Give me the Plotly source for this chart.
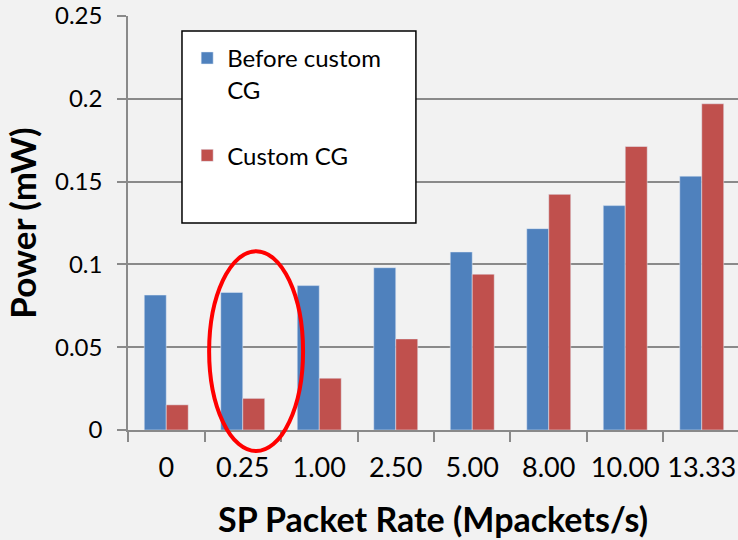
import plotly.graph_objects as go

# SP packet rate categories (Mpackets/s)
rates = ["0", "0.25", "1.00", "2.50", "5.00", "8.00", "10.00", "13.33"]
# Power (mW)
before_cg = [0.0815, 0.0831, 0.0872, 0.098, 0.1075, 0.1216, 0.1355, 0.1533]
custom_cg = [0.0152, 0.0191, 0.0313, 0.055, 0.0941, 0.1423, 0.1712, 0.197]

FONT = "Lato"
GRID = "#8a8a8a"
BG = "#f2f2f2"

fig = go.Figure()
fig.add_trace(go.Bar(x=rates, y=before_cg, name="Before custom<br>CG",
                     marker=dict(color="#4f81bd"), legendgroup="a"))
fig.add_trace(go.Bar(x=rates, y=custom_cg, name="Custom CG",
                     marker=dict(color="#c0504d"), legendgroup="b"))

# white legend frame
fig.add_shape(type="rect", xref="paper", yref="paper",
              x0=0.0885, x1=0.472, y0=0.5, y1=0.964,
              fillcolor="white", line=dict(color="black", width=1.5), layer="above")
# red ellipse highlighting 0.25
fig.add_shape(type="circle", xref="paper", yref="paper",
              x0=0.133, x1=0.287, y0=-0.051, y1=0.432,
              line=dict(color="#ff0000", width=4), layer="above")

fig.update_layout(
    width=738, height=540,
    paper_bgcolor=BG, plot_bgcolor=BG,
    font=dict(family=FONT, color="black"),
    margin=dict(l=128, r=0, t=16, b=110, autoexpand=False),
    barmode="group", bargap=0.425, bargroupgap=0,
    showlegend=True,
    legend=dict(x=0.097, y=0.952, xanchor="left", yanchor="top",
                bgcolor="rgba(0,0,0,0)", font=dict(size=24, family=FONT),
                valign="top", tracegroupgap=32),
    xaxis=dict(type="category", range=[-0.5, 7.474], automargin=False,
               showline=True, linecolor=GRID, linewidth=1.5,
               ticks="outside", tickson="boundaries", ticklen=10, tickcolor=GRID, tickwidth=1.5,
               tickfont=dict(size=27), tickangle=0, ticklabelstandoff=13,
               title=dict(text="<b>SP Packet Rate (Mpackets/s)</b>", font=dict(size=34), standoff=26)),
    yaxis=dict(range=[0, 0.25], dtick=0.05, automargin=False,
               showline=True, linecolor=GRID, linewidth=1.5,
               showgrid=True, gridcolor=GRID, gridwidth=1.5, zeroline=False,
               ticks="outside", ticklen=9, tickcolor=GRID, tickwidth=1.5,
               tickfont=dict(size=24), ticklabelstandoff=10,
               title=dict(text="<b>Power (mW)</b>", font=dict(size=35), standoff=8)),
)

# drop the browser's default page margin so the chart fills the window
fig.write_html("out.html", config={"displayModeBar": False},
               post_script="document.body.style.margin='0px';")
